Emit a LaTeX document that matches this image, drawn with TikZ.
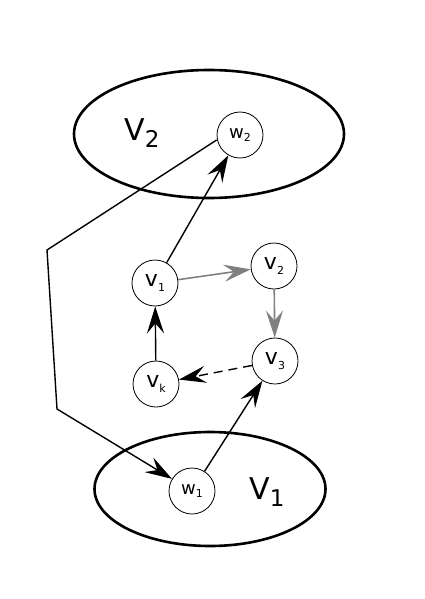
\documentclass[tikz,border=0pt]{standalone}
\usepackage{fontspec}
\setmainfont{DejaVu Sans}
\usetikzlibrary{shapes.geometric, arrows.meta}
\newcommand{\lowidx}[1]{\raisebox{-0.35ex}{\fontsize{11}{11}\selectfont #1}}
\tikzstyle{vertex} = [circle, draw=black, line width=0.8pt, minimum size=46pt, inner sep=0pt, font=\fontsize{22}{22}\selectfont]
\tikzstyle{part} = [ellipse, draw=black, line width=2.6pt, inner sep=0pt]
\tikzstyle{arrow} = [line width=1.4pt, -{Stealth[length=27pt, width=17pt, inset=10pt]}]
\tikzstyle{grayarrow} = [line width=1.6pt, draw=gray, -{Stealth[length=27pt, width=17pt, inset=10pt, fill=gray]}]
\tikzstyle{setname} = [font=\fontsize{30}{30}\selectfont]

\begin{document}
\begin{tikzpicture}[x=1pt, y=1pt]
    \useasboundingbox (0,0) rectangle (424,-599);
    % the two parts
    \node (P2) [part, minimum width=270pt, minimum height=128pt] at (209,-134) {};
    \node (P1) [part, minimum width=231pt, minimum height=114pt] at (210,-489) {};
    \node (n2) [setname] at (142,-133) {V\raisebox{-0.45ex}{\fontsize{23}{23}\selectfont 2}};
    \node (n1) [setname] at (267,-492) {V\raisebox{-0.45ex}{\fontsize{23}{23}\selectfont 1}};
    % vertices
    \node (w2) [vertex, font=\fontsize{18}{18}\selectfont] at (240,-135) {w\lowidx{2}};
    \node (w1) [vertex, font=\fontsize{18}{18}\selectfont] at (192,-491) {w\lowidx{1}};
    \node (v1) [vertex] at (155,-283) {v\lowidx{1}};
    \node (v2) [vertex] at (274,-266) {v\lowidx{2}};
    \node (v3) [vertex] at (275,-361) {v\lowidx{3}};
    \node (vk) [vertex] at (156,-384) {v\lowidx{k}};
    \coordinate (bendtop) at (47,-250);
    \coordinate (bendbot) at (57,-409);
    % connectors
    \draw [arrow] (v1) -- (w2);
    \draw [grayarrow] (v1) -- (v2);
    \draw [grayarrow] (v2) -- (v3);
    \draw [arrow, dash pattern=on 9pt off 6pt] (v3) -- (vk);
    \draw [arrow] (vk) -- (v1);
    \draw [arrow] (w1) -- (v3);
    \draw [arrow] ([yshift=-5pt]w2.west) -- (bendtop) -- (bendbot) -- (w1);

\end{tikzpicture}
\end{document}
